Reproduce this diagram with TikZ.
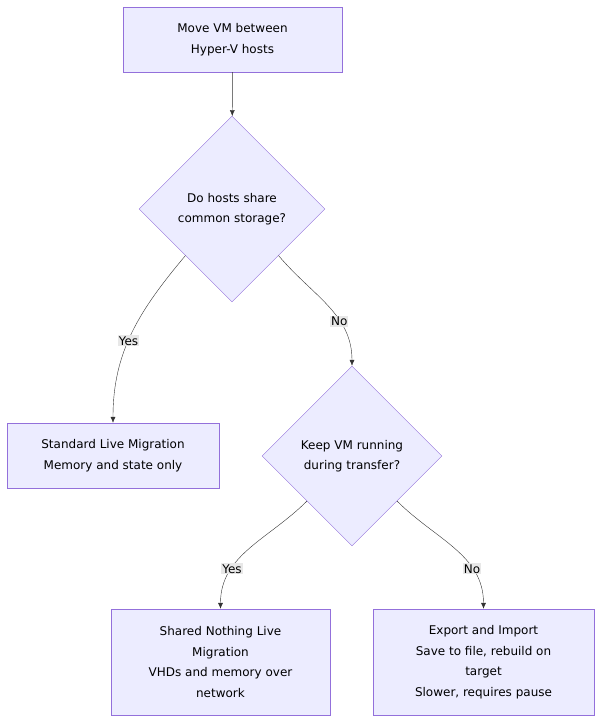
\documentclass[tikz,border=0pt]{standalone}
\usepackage{fontspec}
\setmainfont{DejaVu Sans}
\usetikzlibrary{shapes.geometric,arrows.meta,calc}
\definecolor{boxfill}{HTML}{ECECFF}
\definecolor{boxline}{HTML}{9370DB}
\definecolor{edgeline}{HTML}{333333}
\definecolor{lblfill}{HTML}{E8E8E8}
\tikzset{
  stepnode/.style={draw=boxline,fill=boxfill,align=center,inner sep=0pt,
    font=\fontsize{12}{20.5}\selectfont},
  choice/.style={stepnode,diamond,minimum width=186pt,minimum height=186pt},
  flow/.style={draw=edgeline,-{Latex[length=6pt,width=5pt]}},
  lbl/.style={fill=lblfill,inner sep=1pt,font=\fontsize{12}{14}\selectfont}
}
\begin{document}
\begin{tikzpicture}[x=1pt,y=-1pt]
\useasboundingbox (0,0) rectangle (600,724);
% nodes
\node[stepnode,minimum width=219pt,minimum height=65pt] (move) at (232.5,39.5) {Move VM between\\Hyper-V hosts};
\node[choice] (share) at (232,209) {Do hosts share\\common storage?};
\node[stepnode,minimum width=212pt,minimum height=65pt] (live) at (113,455.5) {Standard Live Migration\\Memory and state only};
\node[choice,minimum width=180pt,minimum height=180pt] (keep) at (352,456) {Keep VM running\\during transfer?};
\node[stepnode,minimum width=219pt,minimum height=106pt] (snl) at (220.5,662) {Shared Nothing Live\\Migration\\VHDs and memory over\\network};
\node[stepnode,minimum width=221pt,minimum height=106pt] (exp) at (483.5,662) {Export and Import\\Save to file, rebuild on\\target\\Slower, requires pause};
% connectors
\draw[flow] (move) -- (share);
\draw[flow] ($(share.west)!0.5!(share.south)$) to[out=-130,in=90] node[lbl,pos=0.55] {Yes} (live.north);
\draw[flow] ($(share.east)!0.5!(share.south)$) to[out=-50,in=90] node[lbl,pos=0.65] {No} (keep.north);
\draw[flow] ($(keep.west)!0.5!(keep.south)$) to[out=-135,in=90] node[lbl,pos=0.7] {Yes} (snl.north);
\draw[flow] ($(keep.east)!0.5!(keep.south)$) to[out=-45,in=90] node[lbl,pos=0.7] {No} (exp.north);
\end{tikzpicture}
\end{document}
